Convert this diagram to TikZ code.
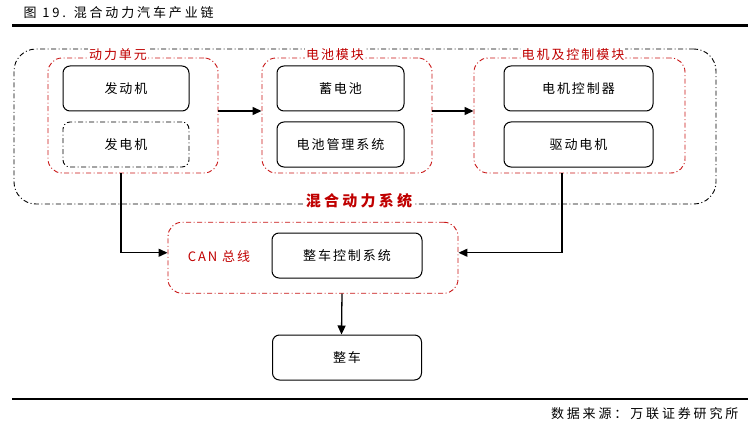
\documentclass[tikz,border=0pt]{standalone}
\usepackage{fontspec}
\setmainfont{Noto Sans CJK SC}[LetterSpace=15]
\newfontfamily\widefont{Noto Sans CJK SC}[LetterSpace=22]
\usetikzlibrary{arrows.meta,positioning}
\definecolor{grpred}{RGB}{200,20,20}
\definecolor{txtred}{RGB}{192,0,0}

\begin{document}
\begin{tikzpicture}[x=1pt,y=-1pt,node distance=56pt,on grid,font=\fontsize{13}{15}\selectfont,>={Triangle[length=9pt,width=8pt]}]
	\tikzstyle{box}=[draw,line width=1pt,rounded corners=7pt,minimum width=126pt,minimum height=45pt,inner sep=0pt]
	\tikzstyle{dashdot}=[dash pattern=on 5pt off 2.5pt on 1pt off 2.5pt]
	\tikzstyle{group}=[draw=grpred,dashdot,line width=0.9pt,rounded corners=14pt,minimum height=115pt,inner sep=0pt]
	\tikzstyle{grplabel}=[text=txtred,fill=white,inner sep=1pt]
	\tikzstyle{arr}=[->,line width=1.3pt]
	
	\useasboundingbox (0,0) rectangle (756,428);
	
	% heading and source
	\node[anchor=west] (title) at (20,13) {\widefont 图 19. 混合动力汽车产业链};
	\draw[line width=2.5pt] (12,25.5) -- (748,25.5);
	\draw[line width=2.5pt] (12,399) -- (748,399);
	\node[anchor=east] (source) at (742,414) {\widefont 数据来源：万联证券研究所};
	
	% frames
	\node[draw,dashdot,line width=0.9pt,rounded corners=22pt,minimum width=702pt,minimum height=155pt] (hybrid) at (365,126.5) {};
	\node[group,minimum width=170pt] (unit)     at (133,115.5) {};
	\node[group,minimum width=170pt] (battmod)  at (347,115.5) {};
	\node[group,minimum width=211pt] (motormod) at (579.5,115.5) {};
	\node[group,minimum width=290pt,minimum height=71pt] (can) at (313,257.75) {};
	
	\node[grplabel] at (118,55) {动力单元};
	\node[grplabel] at (335,55) {电池模块};
	\node[grplabel] at (573,55) {电机及控制模块};
	\node[grplabel,font=\fontsize{15}{17}\selectfont\bfseries] at (359,201) {\widefont 混合动力系统};
	\node[text=txtred,inner sep=0pt] (canlabel) at (219,257) {CAN 总线};
	
	% parts
	\node[box]                                   (engine)    at (126,88.5) {发动机};
	\node[box,dashdot,line width=0.9pt] (generator) [below=of engine]  {发电机};
	\node[box,minimum width=127pt]               (battery)   [right=214.5pt of engine]  {蓄电池};
	\node[box,minimum width=127pt]               (bms)       [below=of battery]  {电池管理系统};
	\node[box,minimum width=149pt]               (mcu)       [right=238pt of battery]  {电机控制器};
	\node[box,minimum width=149pt]               (motor)     [below=of mcu]  {驱动电机};
	\node[box,minimum width=150pt]               (vcu)       [below right=111pt and 6.5pt of bms]  {整车控制系统};
	\node[box,minimum width=149pt]               (vehicle)   [below=102pt of vcu]  {整车};
	
	\draw[arr] ([yshift=4.5pt]unit.east) -- ([yshift=4.5pt]battmod.west);
	\draw[arr] ([yshift=4.5pt]battmod.east) -- ([yshift=4.5pt]motormod.west);
	\draw[arr] ([xshift=-12pt]unit.south) |- ([yshift=5pt]can.west);
	\draw[arr] ([xshift=-17.5pt]motormod.south) |- ([yshift=5pt]can.east);
	\draw[arr] ([xshift=29pt]can.south) -- ([xshift=-5.5pt]vehicle.north);
\end{tikzpicture}
\end{document}
